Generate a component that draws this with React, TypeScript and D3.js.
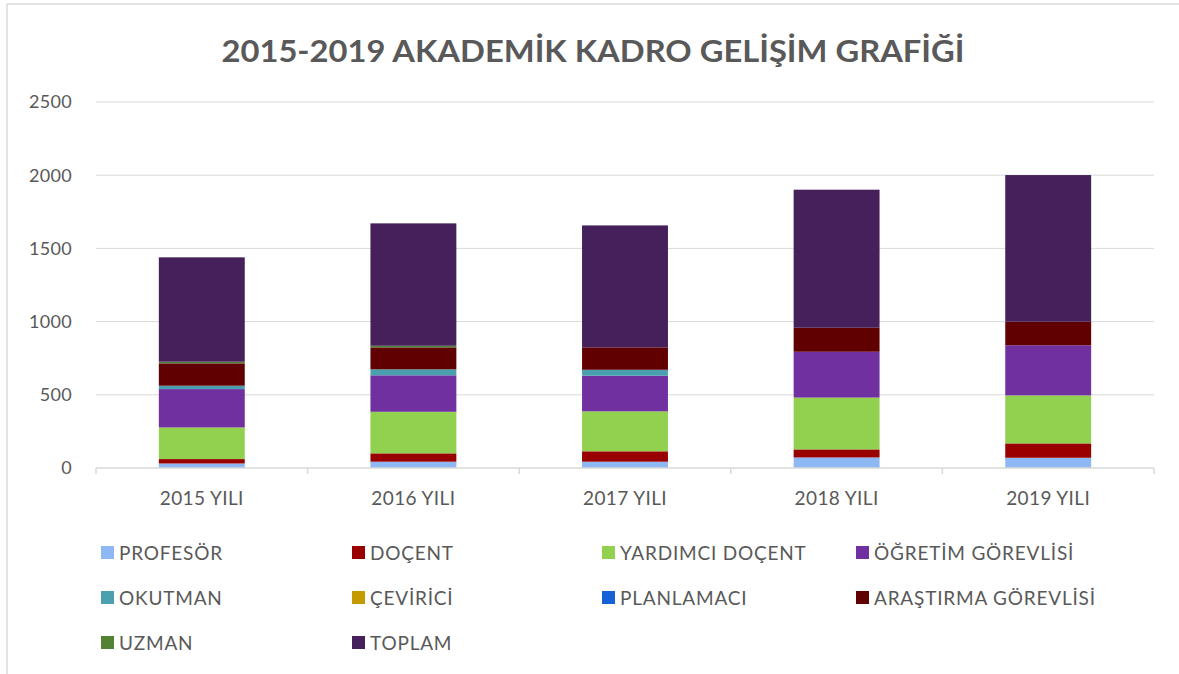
import React from "react";
import * as d3 from "d3";

const categories = ["2015 YILI", "2016 YILI", "2017 YILI", "2018 YILI", "2019 YILI"];
const seriesNames = [
  "PROFESÖR",
  "DOÇENT",
  "YARDIMCI DOÇENT",
  "ÖĞRETİM GÖREVLİSİ",
  "OKUTMAN",
  "ÇEVİRİCİ",
  "PLANLAMACI",
  "ARAŞTIRMA GÖREVLİSİ",
  "UZMAN",
  "TOPLAM",
];
const profesor = [31, 43, 43, 72, 70];
const docent = [30, 57, 71, 55, 98];
const yardimciDocent = [216, 284, 273, 354, 328];
const ogretimGorevlisi = [262, 249, 243, 313, 342];
const okutman = [23, 41, 41, 0, 0];
const cevirici = [0, 0, 0, 0, 0];
const planlamaci = [0, 0, 0, 0, 0];
const arastirmaGorevlisi = [153, 150, 153, 164, 161];
const uzman = [11, 11, 0, 0, 0];
const toplam = [713, 836, 833, 943, 1002];
const seriesValues = [
  profesor,
  docent,
  yardimciDocent,
  ogretimGorevlisi,
  okutman,
  cevirici,
  planlamaci,
  arastirmaGorevlisi,
  uzman,
  toplam,
];
const yTicks = [0, 500, 1000, 1500, 2000, 2500];
const colors = [
  "#8EB8F4",
  "#990000",
  "#92D050",
  "#7030A0",
  "#4BA0B0",
  "#C49A00",
  "#1660D8",
  "#600000",
  "#548235",
  "#45205A",
];

const W = 1179;
const H = 674;
const plotLeft = 96;
const plotRight = 1154;
const plotBottom = 468;
const plotTop = 102;
const FONT = "Lato, 'Open Sans', sans-serif";
const TEXT = "#595959";
const GRID = "#D9D9D9";

export default function App() {
  const x = d3.scaleBand<string>().domain(categories).range([plotLeft, plotRight]).padding(0);
  const y = d3.scaleLinear().domain([0, 2500]).range([plotBottom, plotTop]);
  const barW = x.bandwidth() * 0.406;

  const rows = categories.map((c, i) => {
    const r: Record<string, number | string> = { cat: c };
    seriesNames.forEach((s, k) => (r[s] = seriesValues[k][i]));
    return r;
  });
  const stack = d3.stack<any>().keys(seriesNames)(rows as any);

  const legendCols = [101, 352, 602, 856];
  const legendRows = [553, 598, 643];

  return (
    <svg
      width={W}
      height={H}
      style={{ position: "fixed", left: 0, top: 0, background: "#fff" }}
      fontFamily={FONT}
    >
      <rect x={0} y={0} width={W} height={H} fill="#fff" />
      <line x1={7} x2={W} y1={4} y2={4} stroke={GRID} strokeWidth={1.5} />
      <line x1={7} x2={7} y1={4} y2={H} stroke={GRID} strokeWidth={1.5} />
      <text
        x={593}
        y={62}
        textAnchor="middle"
        fontSize={30}
        fontWeight="bold"
        fill={TEXT}
        textLength={743}
        lengthAdjust="spacingAndGlyphs"
      >
        2015-2019 AKADEMİK KADRO GELİŞİM GRAFİĞİ
      </text>

      {yTicks.map((t) => (
        <g key={t}>
          {t > 0 && (
            <line x1={plotLeft} x2={plotRight} y1={y(t)} y2={y(t)} stroke={GRID} strokeWidth={1} />
          )}
          <text x={72} y={y(t)} dy="0.35em" textAnchor="end" fontSize={18} letterSpacing={0.3} fill={TEXT}>
            {t}
          </text>
        </g>
      ))}

      {stack.map((layer, k) => (
        <g key={seriesNames[k]} fill={colors[k]}>
          {layer.map((d, i) => {
            const h = y(d[0]) - y(d[1]);
            if (h <= 0) return null;
            return (
              <rect
                key={i}
                x={(x(categories[i]) as number) + (x.bandwidth() - barW) / 2}
                y={y(d[1])}
                width={barW}
                height={h}
              />
            );
          })}
        </g>
      ))}

      <line x1={plotLeft} x2={plotRight} y1={plotBottom} y2={plotBottom} stroke={GRID} strokeWidth={1.5} />
      {d3.range(categories.length + 1).map((i) => {
        const xx = plotLeft + i * x.step();
        return <line key={i} x1={xx} x2={xx} y1={plotBottom} y2={plotBottom + 6} stroke={GRID} strokeWidth={1.5} />;
      })}
      {categories.map((c) => (
        <text
          key={c}
          x={(x(c) as number) + x.bandwidth() / 2}
          y={498}
          dy="0.35em"
          textAnchor="middle"
          fontSize={19}
          letterSpacing={0.4}
          fill={TEXT}
        >
          {c}
        </text>
      ))}

      {seriesNames.map((s, k) => {
        const col = k % 4;
        const row = Math.floor(k / 4);
        const lx = legendCols[col];
        const ly = legendRows[row];
        return (
          <g key={s}>
            <rect x={lx} y={ly - 7} width={13} height={13} fill={colors[k]} />
            <text x={lx + 18} y={ly} dy="0.35em" fontSize={19} letterSpacing={0.8} fill={TEXT}>
              {s}
            </text>
          </g>
        );
      })}
    </svg>
  );
}
